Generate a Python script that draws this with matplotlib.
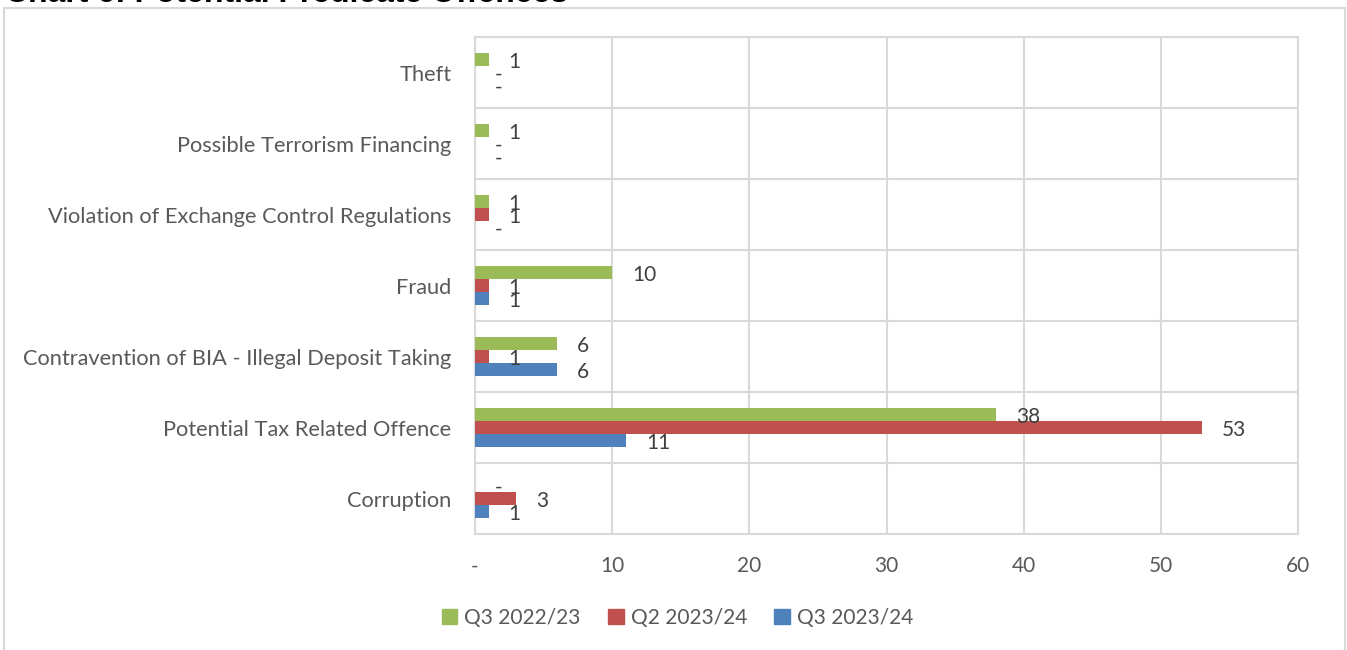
import numpy as np
import matplotlib
matplotlib.use("Agg")
import matplotlib.pyplot as plt
from matplotlib.patches import Patch, Rectangle

categories = ["Theft", "Possible Terrorism Financing",
              "Violation of Exchange Control Regulations", "Fraud",
              "Contravention of BIA - Illegal Deposit Taking",
              "Potential Tax Related Offence", "Corruption"]
series_names = ["Q3 2022/23", "Q2 2023/24", "Q3 2023/24"]
q3_2022 = [1, 1, 1, 10, 6, 38, 0]
q2_2023 = [0, 0, 1, 1, 1, 53, 3]
q3_2023 = [0, 0, 0, 1, 6, 11, 1]
colors = ["#9BBB59", "#C0504D", "#4F81BD"]
x_ticks = [0, 10, 20, 30, 40, 50, 60]
x_tick_labels = ["-", "10", "20", "30", "40", "50", "60"]

plt.rcParams['font.family'] = ['Lato', 'DejaVu Sans']

fig = plt.figure(figsize=(13.47, 6.5), dpi=100)
ax = fig.add_axes([475/1347, 1-534/650, (1298-475)/1347, (534-37)/650])

grid_c = "#D9D9D9"
y = np.arange(len(categories))
h = 0.183
offsets = [-h, 0, h]
for vals, off, col in zip([q3_2022, q2_2023, q3_2023], offsets, colors):
    ax.barh(y + off, vals, height=h, color=col, zorder=3)
    for yi, v in zip(y, vals):
        ax.annotate("-" if v == 0 else str(v), xy=(v, yi + off),
                    xytext=(14.4, -1.5), textcoords="offset points",
                    ha="left", va="center", fontsize=15, color="#404040",
                    zorder=4)

ax.set_xlim(0, 60)
ax.set_ylim(len(categories) - 0.5, -0.5)
ax.set_xticks(x_ticks)
ax.set_xticklabels(x_tick_labels)
ax.set_yticks(y)
ax.set_yticklabels(categories)
ax.set_yticks(np.arange(-0.5, len(categories)), minor=True)
ax.grid(axis="x", color=grid_c, lw=1.5, zorder=0)
ax.grid(axis="y", which="minor", color=grid_c, lw=1.5, zorder=0)
ax.tick_params(axis="both", which="both", length=0)
ax.tick_params(axis="y", pad=17, labelsize=15.7, labelcolor="#595959")
ax.tick_params(axis="x", pad=16, labelsize=15, labelcolor="#595959")
for s in ax.spines.values():
    s.set_color(grid_c)
    s.set_linewidth(1.5)

handles = [Patch(color=c) for c in colors]
fig.legend(handles, series_names, loc="center", bbox_to_anchor=(0.503, 1-618/650),
           ncol=3, frameon=False, fontsize=15, handlelength=0.75, handleheight=0.75,
           handletextpad=0.35, columnspacing=1.3, labelcolor="#595959")

fig.patches.append(Rectangle((4/1347, -0.05), 1341/1347, 1.05 - 8/650,
                             transform=fig.transFigure, fill=False,
                             edgecolor=grid_c, lw=1.5))
fig.text(5/1347, 1-2/650, "Chart 6: Potential Predicate Offences",
         fontsize=23, fontweight="bold", family="Liberation Sans",
         ha="left", va="baseline")

fig.savefig("out.png", dpi=100, facecolor="white")
